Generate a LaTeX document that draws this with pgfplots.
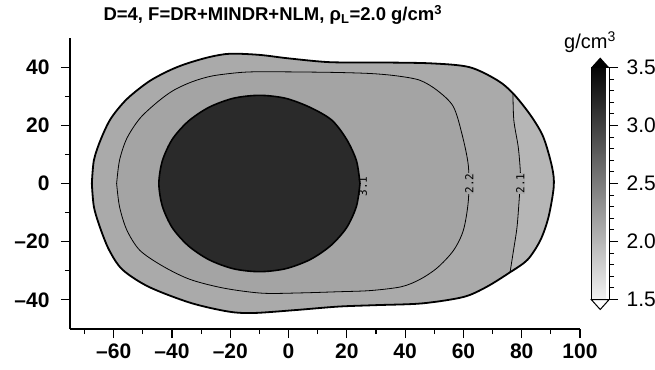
\documentclass[border=0pt]{standalone}
\usepackage{pgfplots}
\pgfplotsset{compat=1.18}
\usepackage{fontspec}
\setmainfont{Liberation Sans}
\newfontfamily\labfont{DejaVu Sans Mono}
\definecolor{outerg}{HTML}{AAAAAA}
\definecolor{innerg}{HTML}{A4A4A4}
\definecolor{rightg}{HTML}{B6B6B6}
\definecolor{diskg}{HTML}{2A2A2A}
\pgfplotstableread{
x y
-67.5 0
-66.8 8
-64.5 15
-61 22.3
-55.5 29
-48 35
-41 38.8
-35 41.2
-27 43.5
-20 44.6
-10 44.2
0 43
14 41.7
30 41.6
48.6 41.3
62 40
71.6 35.5
77 31
83 23.5
87.4 16
90.4 5.7
91 -1
89.2 -11.5
86.4 -19.5
82 -26.2
76 -30.5
68 -35.5
60 -39
45.8 -41.2
30 -41.8
17 -42.3
2.3 -43.5
-12 -44.5
-20.7 -44
-33.7 -41
-48 -35.5
-57 -29.6
-61.5 -23
-64.6 -15.4
-66.8 -8
-67.5 0
}\outerb
\pgfplotstableread{
x y
-59 0
-58 8
-55.5 15.5
-51 22.4
-45 28
-39.5 32
-33 35
-26 37
-16 38.2
-7.3 38.4
14.3 38.2
28 37.8
37 37
45 35.5
51 32
56.5 26.5
59.5 17
61.7 6
61.7 -5.7
60 -16
56.6 -23
51 -29
45 -33
38.6 -35.5
28 -36.8
17 -37.2
4 -37.6
-9 -37.7
-22 -36
-33.7 -33
-43 -28.5
-51 -23
-55.5 -16
-58 -8
-59 0
}\loopb
\pgfplotstableread{
x y
77 31
77.3 21.7
78.8 12.6
79.5 4.6
79.5 0
79.2 -4.6
78.4 -14.9
77.2 -22.9
76 -30.5
}\lineb
\pgfplotstableread{
x y
77 31
77.3 21.7
78.8 12.6
79.5 4.6
79.5 0
79.2 -4.6
78.4 -14.9
77.2 -22.9
76 -30.5
82 -26.2
86.4 -19.5
89.2 -11.5
91 -1
90.4 5.7
87.4 16
83 23.5
77 31
}\rightb
\pgfplotstableread{
x y
24.5 0
23.3 7.8
19.9 15.2
14.8 21.8
7.3 26.2
-1.1 29.3
-10 30.3
-18.9 29.3
-27.3 26.2
-34.4 21.4
-39.9 15.2
-43.3 7.8
-44.5 0
-43.3 -7.8
-39.9 -15.2
-34.4 -21.4
-27.3 -26.2
-18.9 -29.3
-10 -30.3
-1.1 -29.3
7.3 -26.2
14.4 -21.4
19.9 -15.2
23.3 -7.8
24.5 0
}\diskb
\begin{document}
\begin{tikzpicture}
\path[use as bounding box] (-70bp,-41bp) rectangle (585bp,329bp);
\begin{axis}[
  at={(0,0)}, anchor=south west,
  scale only axis, width=510bp, height=291bp,
  xmin=-75, xmax=100, ymin=-50, ymax=50,
  axis lines*=left,
  axis line style={line width=1.3bp},
  tick align=outside,
  xtick={-60,-40,-20,0,20,40,60,80,100},
  xticklabels={–60,–40,–20,0,20,40,60,80,100},
  ytick={-40,-20,0,20,40},
  yticklabels={–40,–20,0,20,40},
  minor xtick={-70,-50,-30,-10,10,30,50,70,90},
  minor ytick={-30,-10,10,30},
  major tick length=9bp, minor tick length=5bp,
  every tick/.style={line width=1.1bp, black},
  ticklabel style={font=\fontsize{21bp}{21bp}\selectfont\bfseries},
  yticklabel style={xshift=-8bp},
  xticklabel style={yshift=-2bp},
  colorbar right,
  point meta min=1.5, point meta max=3.5,
  colormap={bw}{gray(0cm)=(0.95); gray(1cm)=(0.02)},
  colorbar style={
    at={(parent axis.south east)}, anchor=south west,
    xshift=2.7bp, yshift=29.5bp,
    scale only axis, width=18bp, height=232bp,
    ytick={1.5,2,2.5,3,3.5}, yticklabels={1.5,2.0,2.5,3.0,3.5},
    minor ytick={1.6,1.7,1.8,1.9,2.1,2.2,2.3,2.4,2.6,2.7,2.8,2.9,3.1,3.2,3.3,3.4},
    yticklabel pos=right, ytick pos=right,
    tick align=outside, major tick length=9bp, minor tick length=5bp,
    every tick/.style={line width=1bp, black},
    ticklabel style={font=\fontsize{21bp}{21bp}\selectfont},
    yticklabel style={xshift=5bp},
    axis line style={line width=1bp},
    after end axis/.code={
      \fill[black] (rel axis cs:0,1) -- (rel axis cs:1,1) -- ([yshift=10bp]rel axis cs:0.5,1) -- cycle;
      \filldraw[fill=white,draw=black,line width=1bp] (rel axis cs:0,0) -- (rel axis cs:1,0) -- ([yshift=-10bp]rel axis cs:0.5,0) -- cycle;
    },
  },
]
\addplot[fill=outerg, draw=none, smooth] table {\outerb} -- cycle;
\addplot[fill=innerg, draw=none, smooth] table {\loopb} -- cycle;
\addplot[fill=rightg, draw=none, smooth] table {\rightb} -- cycle;
\addplot[fill=diskg, draw=none, smooth] table {\diskb} -- cycle;
\addplot[black, line width=0.8bp, smooth] table {\loopb};
\addplot[black, line width=0.8bp, smooth] table {\lineb};
\node[rotate=90, fill=innerg, inner sep=1bp, font=\labfont\fontsize{11bp}{11bp}\selectfont] at (62,0) {2.2};
\node[rotate=90, fill=outerg, inner sep=1bp, font=\labfont\fontsize{11bp}{11bp}\selectfont] at (79.5,0) {2.1};
\addplot[black, line width=1.6bp, smooth] table {\diskb};
\addplot[black, line width=1.8bp, smooth] table {\outerb};
\node[rotate=90, inner sep=1bp, text=black, font=\labfont\fontsize{11bp}{11bp}\selectfont] at (25.5,-1) {3.1};
\end{axis}
\node[anchor=base west, font=\fontsize{18.5bp}{18.5bp}\selectfont\bfseries] at (30bp,308bp) {D=4, F=DR+MINDR+NLM, ρ\textsubscript{L}=2.0 g/cm\textsuperscript{3}};
\node[anchor=base, font=\fontsize{20bp}{20bp}\selectfont] at (520bp,280bp) {g/cm\textsuperscript{3}};
\end{tikzpicture}
\end{document}
